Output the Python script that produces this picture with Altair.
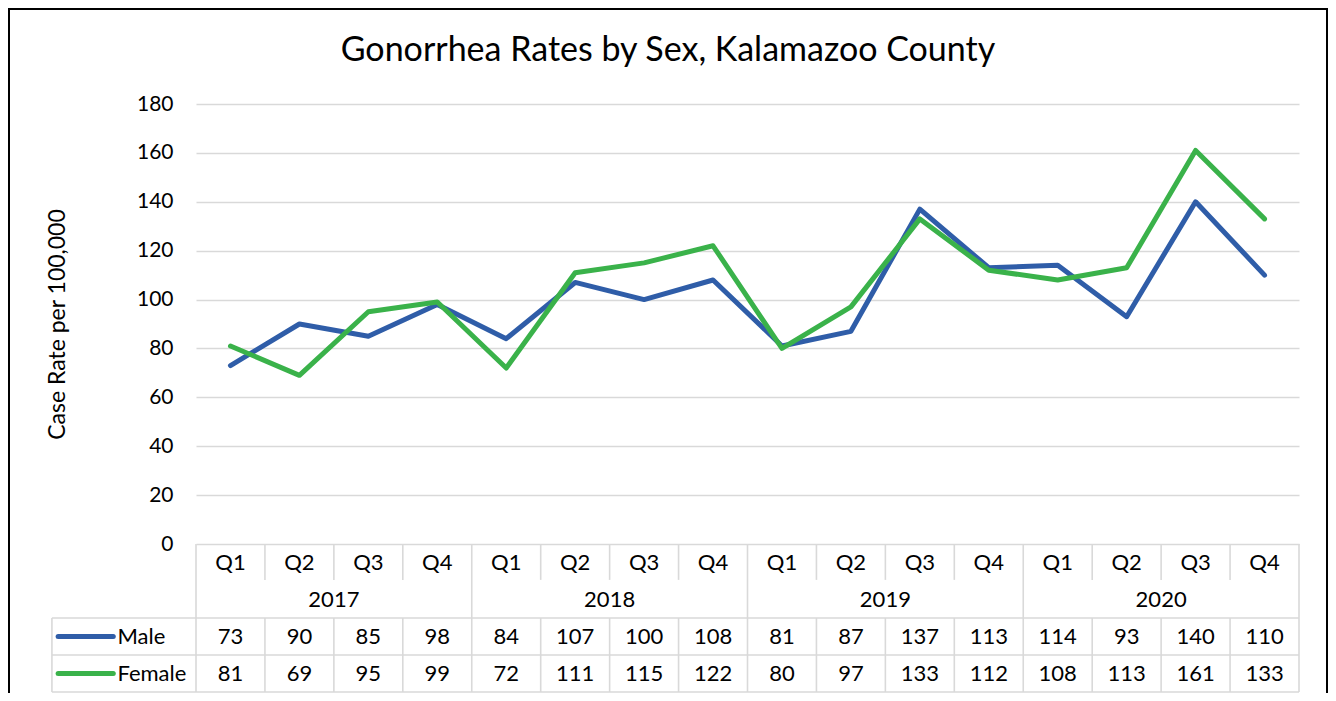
import altair as alt
import pandas as pd

# ---------------- data ----------------
TITLE = "Gonorrhea Rates by Sex, Kalamazoo County"
Y_TITLE = "Case Rate per 100,000"
years = ["2017", "2018", "2019", "2020"]
quarters = ["Q1", "Q2", "Q3", "Q4"]
series = ["Male", "Female"]
male = [73, 90, 85, 98, 84, 107, 100, 108, 81, 87, 137, 113, 114, 93, 140, 110]
female = [81, 69, 95, 99, 72, 111, 115, 122, 80, 97, 133, 112, 108, 113, 161, 133]
colors = ["#2F5DA8", "#3AB24A"]
y_ticks = [0, 20, 40, 60, 80, 100, 120, 140, 160, 180]

# ---------------- layout / style ----------------
FONT = "Lato"
TXT = 22
GRID = "#D9D9D9"
W, H = 1103, 440
PAD = {"left": 188, "top": 96, "right": 29, "bottom": 149}
LW = 5

n = len(years) * len(quarters)
recs = []
for i in range(n):
    recs.append({"idx": i, "year": years[i // 4], "quarter": quarters[i % 4],
                 "Male": male[i], "Female": female[i]})
df = pd.DataFrame(recs)

xscale = alt.Scale(domain=[-0.5, n - 0.5], nice=False, zero=False)
yscale = alt.Scale(domain=[0, 180], nice=False)
tscale = alt.Scale(domain=[0, 4], range=[H, H + 148], nice=False, zero=False)

yaxis = alt.Axis(values=y_ticks, title=Y_TITLE, grid=True)

X = alt.X("idx:Q", scale=xscale, axis=None)

male_line = alt.Chart(df).mark_line(
    strokeWidth=LW, strokeCap="round", strokeJoin="round", color=colors[0]
).encode(x=X, y=alt.Y("Male:Q", scale=yscale, axis=yaxis))
female_line = alt.Chart(df).mark_line(
    strokeWidth=LW, strokeCap="round", strokeJoin="round", color=colors[1]
).encode(x=X, y=alt.Y("Female:Q", scale=yscale, axis=yaxis))
lines = alt.layer(male_line, female_line)

# ---------------- data table below the plot ----------------
LEG_LEFT = -2.59
bounds = [i - 0.5 for i in range(n + 1)]
full = [b for k, b in enumerate(bounds) if k % 4 == 0]
inner = [b for k, b in enumerate(bounds) if k % 4 != 0]
vr = []
for b in full:
    vr.append({"x": b, "y1": 0, "y2": 4})
for b in inner:
    vr.append({"x": b, "y1": 0, "y2": 0.97})
    vr.append({"x": b, "y1": 2, "y2": 4})
vr.append({"x": LEG_LEFT, "y1": 2, "y2": 4})
vdf = pd.DataFrame(vr)
hdf = pd.DataFrame({"x1": [LEG_LEFT] * 3, "x2": [n - 0.5] * 3, "y": [2, 3, 4]})

vrules = alt.Chart(vdf).mark_rule(color=GRID, strokeWidth=1.6).encode(
    x=alt.X("x:Q", scale=xscale, axis=None),
    y=alt.Y("y1:Q", scale=tscale, axis=None), y2="y2:Q")
hrules = alt.Chart(hdf).mark_rule(color=GRID, strokeWidth=1.6).encode(
    x=alt.X("x1:Q", scale=xscale, axis=None), x2="x2:Q",
    y=alt.Y("y:Q", scale=tscale, axis=None))

tstyle = dict(font=FONT, fontSize=TXT, color="black", baseline="middle", align="center")
qtext = alt.Chart(df).transform_calculate(row="0.5").mark_text(**tstyle).encode(
    x=X, y=alt.Y("row:Q", scale=tscale, axis=None), text="quarter:N")
ytext = alt.Chart(df).transform_aggregate(cx="mean(idx)", groupby=["year"]).transform_calculate(
    row="1.5").mark_text(**tstyle).encode(
    x=alt.X("cx:Q", scale=xscale, axis=None), y=alt.Y("row:Q", scale=tscale, axis=None), text="year:N")
mtext = alt.Chart(df).transform_calculate(row="2.5").mark_text(**tstyle).encode(
    x=X, y=alt.Y("row:Q", scale=tscale, axis=None), text="Male:Q")
ftext = alt.Chart(df).transform_calculate(row="3.5").mark_text(**tstyle).encode(
    x=X, y=alt.Y("row:Q", scale=tscale, axis=None), text="Female:Q")

ldf = pd.DataFrame({"series": series, "row": [2.5, 3.5],
                    "s1": [-2.50, -2.50], "s2": [-1.70, -1.70], "tx": [-1.64, -1.64]})
swatch = alt.Chart(ldf).mark_rule(strokeWidth=LW, strokeCap="round").encode(
    x=alt.X("s1:Q", scale=xscale, axis=None), x2="s2:Q",
    y=alt.Y("row:Q", scale=tscale, axis=None),
    color=alt.Color("series:N", scale=alt.Scale(domain=series, range=colors), legend=None))
ltext = alt.Chart(ldf).mark_text(font=FONT, fontSize=TXT, color="black", baseline="middle",
                                 align="left").encode(
    x=alt.X("tx:Q", scale=xscale, axis=None),
    y=alt.Y("row:Q", scale=tscale, axis=None), text="series:N")

table = alt.layer(vrules, hrules, qtext, ytext, mtext, ftext, swatch, ltext)

# ---------------- frame and title ----------------
one = pd.DataFrame({"t": [TITLE]})
border = alt.Chart(one).mark_rect(filled=False, stroke="black", strokeWidth=2).encode(
    x=alt.value(-187), x2=alt.value(1131), y=alt.value(-95), y2=alt.value(600))
title = alt.Chart(one).mark_text(font=FONT, fontSize=34, color="black", align="center",
                                 baseline="alphabetic").encode(
    x=alt.value(472), y=alt.value(-43), text="t:N")

chart = alt.layer(lines, table, border, title).resolve_scale(y="independent").properties(
    width=W, height=H, autosize=alt.AutoSizeParams(type="none"), padding=PAD
).configure_view(strokeWidth=0).configure_axis(
    labelFont=FONT, labelFontSize=21, labelColor="black", labelPadding=23,
    ticks=False, domain=False, gridColor=GRID, gridWidth=1.6,
    titleFont=FONT, titleFontSize=23, titleFontWeight="normal", titleColor="black",
    titlePadding=67)

chart.save("out.html", embed_options={"renderer": "svg", "actions": False})
